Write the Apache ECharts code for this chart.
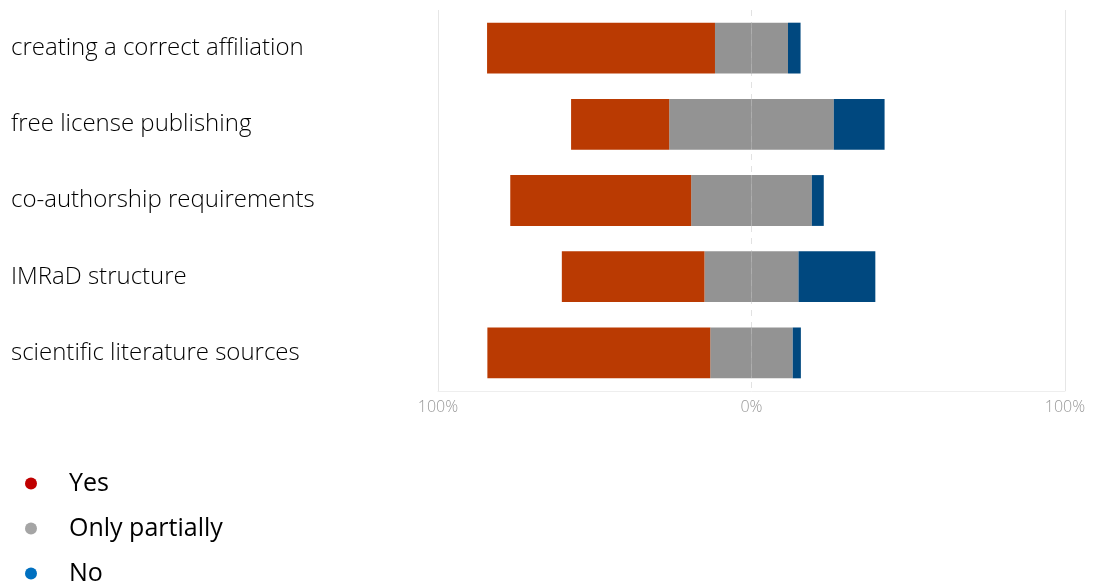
<!DOCTYPE html>
<html>
<head>
<meta charset="utf-8">
<script src="https://cdn.jsdelivr.net/npm/echarts@6/dist/echarts.min.js"></script>
<style>
html,body{margin:0;padding:0;background:#fff;}
#chart{width:1094px;height:587px;}
</style>
</head>
<body>
<div id="chart"></div>
<script>
const categories = ['creating a correct affiliation','free license publishing','co-authorship requirements','IMRaD structure','scientific literature sources'];
const yesValues = [72.7, 31.3, 57.7, 45.5, 71.1];
const partialValues = [23.3, 52.5, 38.5, 30.0, 26.3];
const noValues = [4.0, 16.2, 3.8, 24.5, 2.6];
const axisTicks = [-100, 0, 100];

const YES_C = '#BA3A02', PART_C = '#939393', NO_C = '#00487F';

const chart = echarts.init(document.getElementById('chart'), null, {renderer:'canvas'});
const barCommon = {type:'bar', stack:'total', barWidth:'66.7%', xAxisIndex:0, emphasis:{disabled:true}};
chart.setOption({
  animation:false,
  textStyle:{fontFamily:'Open Sans'},
  grid:{left:438, right:29, top:10, bottom:196, containLabel:false},
  legend:{
    orient:'vertical', left:25, top:471, padding:0, itemGap:20, icon:'circle', itemWidth:12, itemHeight:12,
    textStyle:{fontFamily:'Open Sans', fontSize:25, color:'#000', lineHeight:25, padding:[0,0,0,27]},
    data:[
      {name:'Yes', itemStyle:{color:'#C00000'}},
      {name:'Only partially', itemStyle:{color:'#A5A5A5'}},
      {name:'No', itemStyle:{color:'#0070C0'}}
    ],
    selectedMode:false
  },
  xAxis:[{
    type:'value', min:axisTicks[0], max:axisTicks[2], interval:100,
    axisLine:{show:true, lineStyle:{color:'#eeeeee'}}, axisTick:{show:false},
    axisLabel:{formatter:v=>Math.abs(v)+'%', color:'#999', fontSize:16, fontFamily:'Open Sans', fontWeight:300, margin:8},
    splitLine:{show:true, lineStyle:{color:'#e2e2e2', type:[6,6], width:1}}
  },{
    type:'value', min:axisTicks[0], max:axisTicks[2], interval:200, position:'top',
    axisLine:{show:false}, axisTick:{show:false}, axisLabel:{show:false},
    splitLine:{show:true, lineStyle:{color:'#e6e6e6', width:1}}
  }],
  yAxis:{
    type:'category', data:categories, inverse:true,
    axisLine:{show:false}, axisTick:{show:false}, splitLine:{show:false},
    axisLabel:{align:'left', margin:427, fontSize:24, color:'#000', fontFamily:'Open Sans', fontWeight:300}
  },
  series:[
    Object.assign({}, barCommon, {name:'Only partially', itemStyle:{color:PART_C}, data:partialValues.map(v=>-v/2)}),
    Object.assign({}, barCommon, {name:'Only partially', itemStyle:{color:PART_C}, data:partialValues.map(v=>v/2)}),
    Object.assign({}, barCommon, {name:'Yes', itemStyle:{color:YES_C}, data:yesValues.map(v=>-v)}),
    Object.assign({}, barCommon, {name:'No', itemStyle:{color:NO_C}, data:noValues.slice()})
  ]
});
</script>
</body>
</html>
